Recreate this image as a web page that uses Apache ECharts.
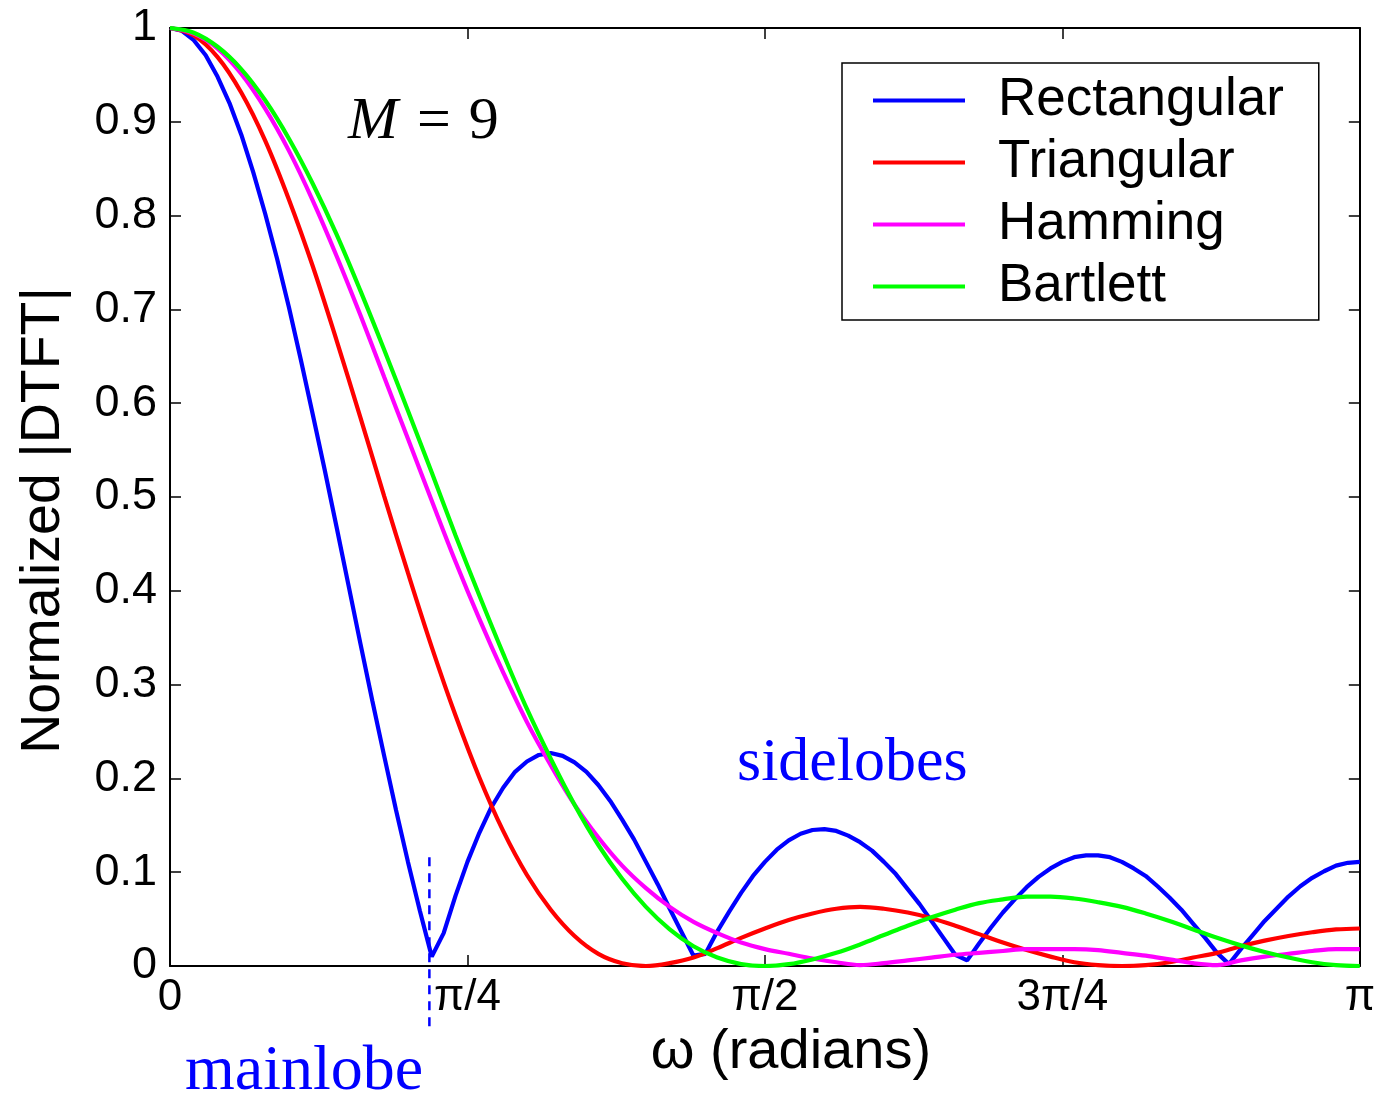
<!DOCTYPE html>
<html>
<head>
<meta charset="utf-8">
<script src="https://cdn.jsdelivr.net/npm/echarts@6/dist/echarts.min.js"></script>
<style>
html,body{margin:0;padding:0;background:#fff;}
#chart{width:1378px;height:1100px;}
</style>
</head>
<body>
<div id="chart"></div>
<script>
// omega in units of pi
const omegaFine = [0,0.01,0.02,0.03,0.04,0.05,0.06,0.07,0.08,0.09,0.10,0.11,0.12,0.13,0.14,0.15,0.16,0.17,0.18,0.19,0.20,0.21,0.22,0.23,0.24,0.25,0.26,0.27,0.28,0.29,0.30,0.31,0.32,0.33,0.34,0.35,0.36,0.37,0.38,0.39,0.40,0.41,0.42,0.43,0.44,0.45,0.46,0.47,0.48,0.49,0.50,0.51,0.52,0.53,0.54,0.55,0.56,0.57,0.58,0.59,0.60,0.61,0.62,0.63,0.64,0.65,0.66,0.67,0.68,0.69,0.70,0.71,0.72,0.73,0.74,0.75,0.76,0.77,0.78,0.79,0.80,0.81,0.82,0.83,0.84,0.85,0.86,0.87,0.88,0.89,0.90,0.91,0.92,0.93,0.94,0.95,0.96,0.97,0.98,0.99,1.00];
const omegaCoarse = [0,0.02,0.04,0.06,0.08,0.10,0.12,0.14,0.16,0.18,0.20,0.22,0.24,0.26,0.28,0.30,0.32,0.34,0.36,0.38,0.40,0.42,0.44,0.46,0.48,0.50,0.52,0.54,0.56,0.58,0.60,0.62,0.64,0.66,0.68,0.70,0.72,0.74,0.76,0.78,0.80,0.82,0.84,0.86,0.88,0.90,0.92,0.94,0.96,0.98,1.00];

const rectangular = [1.000,0.997,0.987,0.971,0.948,0.920,0.886,0.846,0.802,0.754,0.702,0.646,0.588,0.529,0.468,0.406,0.344,0.283,0.224,0.166,0.111,0.059,0.010,0.035,0.075,0.111,0.142,0.169,0.190,0.207,0.218,0.225,0.227,0.224,0.217,0.207,0.193,0.176,0.156,0.135,0.111,0.087,0.061,0.036,0.011,0.013,0.037,0.058,0.078,0.096,0.111,0.124,0.134,0.141,0.145,0.146,0.144,0.139,0.132,0.123,0.111,0.098,0.082,0.066,0.048,0.030,0.012,0.006,0.024,0.041,0.057,0.071,0.084,0.095,0.104,0.111,0.116,0.118,0.118,0.116,0.111,0.104,0.096,0.085,0.073,0.060,0.045,0.030,0.014,0.002,0.018,0.033,0.048,0.061,0.074,0.085,0.094,0.101,0.107,0.110,0.111];
const triangular = [1.000,0.992,0.969,0.931,0.880,0.817,0.746,0.667,0.585,0.501,0.419,0.340,0.267,0.201,0.144,0.097,0.060,0.032,0.013,0.003,0.000,0.003,0.009,0.019,0.030,0.040,0.049,0.056,0.061,0.063,0.061,0.057,0.051,0.043,0.034,0.025,0.017,0.010,0.004,0.001,0.000,0.001,0.004,0.009,0.014,0.021,0.027,0.032,0.036,0.039,0.040];
const hamming = [1.000,0.994,0.978,0.951,0.914,0.869,0.816,0.757,0.694,0.628,0.562,0.496,0.431,0.370,0.313,0.260,0.214,0.172,0.137,0.107,0.083,0.063,0.047,0.035,0.025,0.018,0.013,0.008,0.004,0.001,0.003,0.006,0.009,0.012,0.014,0.016,0.018,0.018,0.018,0.017,0.014,0.011,0.007,0.003,0.001,0.006,0.010,0.013,0.016,0.018,0.018];
const bartlett = [1.000,0.995,0.980,0.956,0.923,0.882,0.834,0.780,0.720,0.657,0.592,0.526,0.459,0.395,0.333,0.274,0.221,0.172,0.129,0.093,0.063,0.039,0.021,0.009,0.002,0.000,0.002,0.007,0.014,0.023,0.033,0.043,0.052,0.060,0.067,0.071,0.074,0.074,0.072,0.068,0.063,0.056,0.048,0.039,0.030,0.022,0.015,0.009,0.004,0.001,0.000];

const seriesNames = ['Rectangular','Triangular','Hamming','Bartlett'];
const seriesColors = ['#0000ff','#ff0000','#ff00ff','#00ff00'];

const xTickValues = [0,0.25,0.5,0.75,1];
const xTickLabels = ['0','π/4','π/2','3π/4','π'];

// dashed mainlobe marker (x in units of pi, y values)
const markerX = [0.218,0.218];
const markerY = [0.116,-0.068];

const zip = (xs, ys) => xs.map((x, i) => [x, ys[i]]);

const sansFont = "'Liberation Sans', Arial, Helvetica, sans-serif";
const serifFont = "'Liberation Serif', 'Times New Roman', Times, serif";

const chart = echarts.init(document.getElementById('chart'), null, {renderer:'canvas'});

const axisLineStyle = {color:'#000', width:2};
const tickStyle = {color:'#000', width:1.5};

const lineSeries = (name, xs, ys, color, smooth) => ({
  name, type:'line', data: zip(xs, ys), showSymbol:false, symbol:'none',
  smooth: smooth, lineStyle:{color, width:4.2}, itemStyle:{color}, z: 3, silent:true
});

chart.setOption({
  animation:false,
  backgroundColor:'#fff',
  grid:{left:170, right:18, top:28, bottom:134, containLabel:false},
  xAxis:[{
    type:'value', min:0, max:1, interval:0.25, position:'bottom',
    axisLine:{show:true, onZero:false, lineStyle:axisLineStyle},
    axisTick:{show:true, inside:true, length:11, lineStyle:tickStyle},
    splitLine:{show:false},
    axisLabel:{
      color:'#000', fontSize:44, fontFamily:sansFont, margin:10,
      formatter: v => { const i = xTickValues.findIndex(t => Math.abs(t - v) < 1e-9); return i >= 0 ? xTickLabels[i] : ''; }
    },
    name:'ω (radians)', nameLocation:'middle', nameGap:44,
    nameTextStyle:{color:'#000', fontSize:56, fontFamily:sansFont, padding:[0,0,0,52]}
  },{
    type:'value', min:0, max:1, interval:0.25, position:'top',
    axisLine:{show:true, onZero:false, lineStyle:axisLineStyle},
    axisTick:{show:true, inside:true, length:11, lineStyle:tickStyle},
    axisLabel:{show:false}, splitLine:{show:false}
  }],
  yAxis:[{
    type:'value', min:0, max:1, interval:0.1, position:'left',
    axisLine:{show:true, onZero:false, lineStyle:axisLineStyle},
    axisTick:{show:true, inside:true, length:11, lineStyle:tickStyle},
    splitLine:{show:false},
    axisLabel:{color:'#000', fontSize:45, fontFamily:sansFont, margin:13},
    name:'Normalized |DTFT|', nameLocation:'middle', nameGap:98,
    nameTextStyle:{color:'#000', fontSize:55.5, fontFamily:sansFont, padding:[0,47,0,0]}
  },{
    type:'value', min:0, max:1, interval:0.1, position:'right',
    axisLine:{show:true, onZero:false, lineStyle:axisLineStyle},
    axisTick:{show:true, inside:true, length:11, lineStyle:tickStyle},
    axisLabel:{show:false}, splitLine:{show:false}
  }],
  legend:{
    data: seriesNames, orient:'vertical', left:842, top:63,
    icon:'rect', itemWidth:92, itemHeight:4, itemGap:9,
    padding:[11,35,7,31], borderColor:'#000', borderWidth:1.5, backgroundColor:'#fff',
    textStyle:{color:'#000', fontSize:53, fontFamily:sansFont, padding:[0,0,0,28]},
    selectedMode:false
  },
  series:[
    lineSeries(seriesNames[0], omegaFine, rectangular, seriesColors[0], false),
    lineSeries(seriesNames[1], omegaCoarse, triangular, seriesColors[1], 0.35),
    lineSeries(seriesNames[2], omegaCoarse, hamming, seriesColors[2], 0.35),
    lineSeries(seriesNames[3], omegaCoarse, bartlett, seriesColors[3], 0.35),
    {
      name:'mainlobe marker', type:'line', data: zip(markerX, markerY), showSymbol:false, symbol:'none',
      clip:false, lineStyle:{color:'#0000ff', width:2.5, type:[9,7]}, z:4, silent:true
    }
  ],
  graphic:[
    {type:'text', x:348, y:122, style:{
      text:'{i|M}{e|=}{n|9}', fill:'#000', verticalAlign:'middle', align:'left',
      rich:{
        i:{fontFamily:serifFont, fontStyle:'italic', fontSize:60, fill:'#000'},
        e:{fontFamily:serifFont, fontSize:60, fill:'#000', padding:[0,18,0,19]},
        n:{fontFamily:serifFont, fontSize:60, fill:'#000'}
      }
    }},
    {type:'text', x:737, y:764, style:{text:'sidelobes', fill:'#0000ff', font:'62px ' + serifFont, verticalAlign:'middle', align:'left'}},
    {type:'text', x:185, y:1072, style:{text:'mainlobe', fill:'#0000ff', font:'64px ' + serifFont, verticalAlign:'middle', align:'left'}}
  ]
});
</script>
</body>
</html>
